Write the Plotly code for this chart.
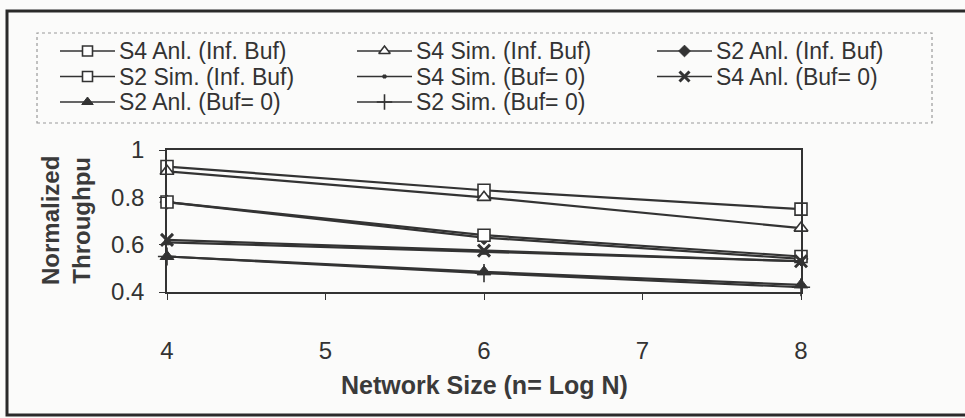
import plotly.graph_objects as go

# Network size n = log2 N
network_size = [4, 6, 8]

# Normalized throughput per configuration
s4_anl_inf = [0.93, 0.83, 0.75]
s4_sim_inf = [0.91, 0.80, 0.67]
s2_anl_inf = [0.78, 0.63, 0.54]
s2_sim_inf = [0.78, 0.64, 0.55]
s4_sim_b0 = [0.61, 0.57, 0.53]
s4_anl_b0 = [0.62, 0.575, 0.53]
s2_anl_b0 = [0.55, 0.485, 0.43]
s2_sim_b0 = [0.55, 0.48, 0.42]

series_names = [
    "S4 Anl. (Inf. Buf)", "S4 Sim. (Inf. Buf)", "S2 Anl. (Inf. Buf)",
    "S2 Sim. (Inf. Buf)", "S4 Sim. (Buf= 0)", "S4 Anl. (Buf= 0)",
    "S2 Anl. (Buf= 0)", "S2 Sim. (Buf= 0)",
]
series_values = [s4_anl_inf, s4_sim_inf, s2_anl_inf, s2_sim_inf,
                 s4_sim_b0, s4_anl_b0, s2_anl_b0, s2_sim_b0]

x_ticks = [4, 5, 6, 7, 8]
y_ticks = [0.4, 0.6, 0.8, 1.0]
y_tick_text = ["0.4", "0.6", "0.8", "1"]

INK = "#333333"
FONT = "Liberation Sans, Arial, sans-serif"
W, H = 965, 418
L, R, T, B = 167, 801, 150, 292          # plot-area edges in pixels

# marker style per series: (symbol, size, fill colour, outline width)
styles = [
    ("square", 12, "white", 1.6),
    ("triangle-up", 12, "white", 1.6),
    ("diamond", 11, INK, 1),
    ("square", 12, "white", 1.6),
    ("square", 5, INK, 1),
    ("x-thin", 12, INK, 3),
    ("triangle-up", 12, INK, 1),
    ("cross-thin", 13, INK, 1.6),
]

fig = go.Figure()

# data series on the main axes
for name, vals, (sym, size, fill, lw) in zip(series_names, series_values, styles):
    fig.add_trace(go.Scatter(
        x=network_size, y=vals, name=name, mode="lines+markers",
        line=dict(color=INK, width=2.2),
        marker=dict(symbol=sym, size=size, color=fill,
                    line=dict(color=INK, width=lw)),
        cliponaxis=False, showlegend=False,
    ))

# legend drawn on a full-figure overlay subplot with pixel-scaled axes
col_x = [60, 357, 657]
row_y = [51, 76.5, 102]
sample_len = 55
for i, (name, (sym, size, fill, lw)) in enumerate(zip(series_names, styles)):
    cx = col_x[i % 3]
    cy = row_y[i // 3]
    fig.add_trace(go.Scatter(
        x=[cx, cx + sample_len], y=[cy, cy], xaxis="x2", yaxis="y2",
        mode="lines", line=dict(color=INK, width=1.6),
        showlegend=False, hoverinfo="skip",
    ))
    fig.add_trace(go.Scatter(
        x=[cx + sample_len / 2], y=[cy], xaxis="x2", yaxis="y2", mode="markers",
        marker=dict(symbol=sym, size=size - 2, color=fill,
                    line=dict(color=INK, width=lw)),
        showlegend=False, hoverinfo="skip",
    ))
    fig.add_annotation(
        x=cx + sample_len + 3, y=cy, xref="x2", yref="y2",
        text=name, showarrow=False, xanchor="left", yanchor="middle",
        borderpad=0,
        font=dict(family=FONT, size=23, color=INK),
    )

# axis titles
fig.add_annotation(
    x=66, y=(T + B) / 2, xref="x2", yref="y2",
    text="<b>Normalized<br>Throughpu</b>", showarrow=False, textangle=-90,
    xanchor="center", yanchor="middle",
    font=dict(family=FONT, size=24, color="#3a3a3a"),
)
fig.add_annotation(
    x=(L + R) / 2, y=385, xref="x2", yref="y2",
    text="<b>Network Size (n= Log N)</b>", showarrow=False,
    xanchor="center", yanchor="middle",
    font=dict(family=FONT, size=25, color="#3a3a3a"),
)

shapes = [
    # outer chart border
    dict(type="rect", xref="x2", yref="y2", x0=7, x1=W + 10, y0=415, y1=11,
         line=dict(color="#2a2a2a", width=3), layer="below"),
    # legend frame
    dict(type="rect", xref="x2", yref="y2", x0=37, x1=932, y0=123, y1=33,
         line=dict(color="#9a9a9a", width=1.2, dash="dot"), layer="below"),
]

BG = "#fbfbfa"
fig.update_layout(
    width=W, height=H,
    margin=dict(l=0, r=0, t=0, b=0, autoexpand=False),
    paper_bgcolor=BG, plot_bgcolor="rgba(0,0,0,0)",
    font=dict(family=FONT, size=24, color=INK),
    shapes=shapes,
    showlegend=False,
    xaxis=dict(domain=[L / W, R / W], range=[4, 8], tickvals=x_ticks,
               showgrid=False, zeroline=False,
               showline=True, mirror=True, linecolor=INK, linewidth=1.5,
               ticks="outside", ticklen=6, tickcolor=INK, tickwidth=1.2,
               ticklabelstandoff=30, tickfont=dict(size=24)),
    yaxis=dict(domain=[(H - B) / H, (H - T) / H], range=[0.4, 1.0],
               tickvals=y_ticks, ticktext=y_tick_text,
               showgrid=False, zeroline=False,
               showline=True, mirror=True, linecolor=INK, linewidth=1.5,
               ticks="outside", ticklen=6, tickcolor=INK, tickwidth=1.2,
               ticklabelstandoff=10, tickfont=dict(size=24)),
    xaxis2=dict(domain=[0, 1], range=[0, W], anchor="y2", visible=False,
                fixedrange=True),
    yaxis2=dict(domain=[0, 1], range=[H, 0], anchor="x2", visible=False,
                fixedrange=True),
)

fig.write_html("out.html")
